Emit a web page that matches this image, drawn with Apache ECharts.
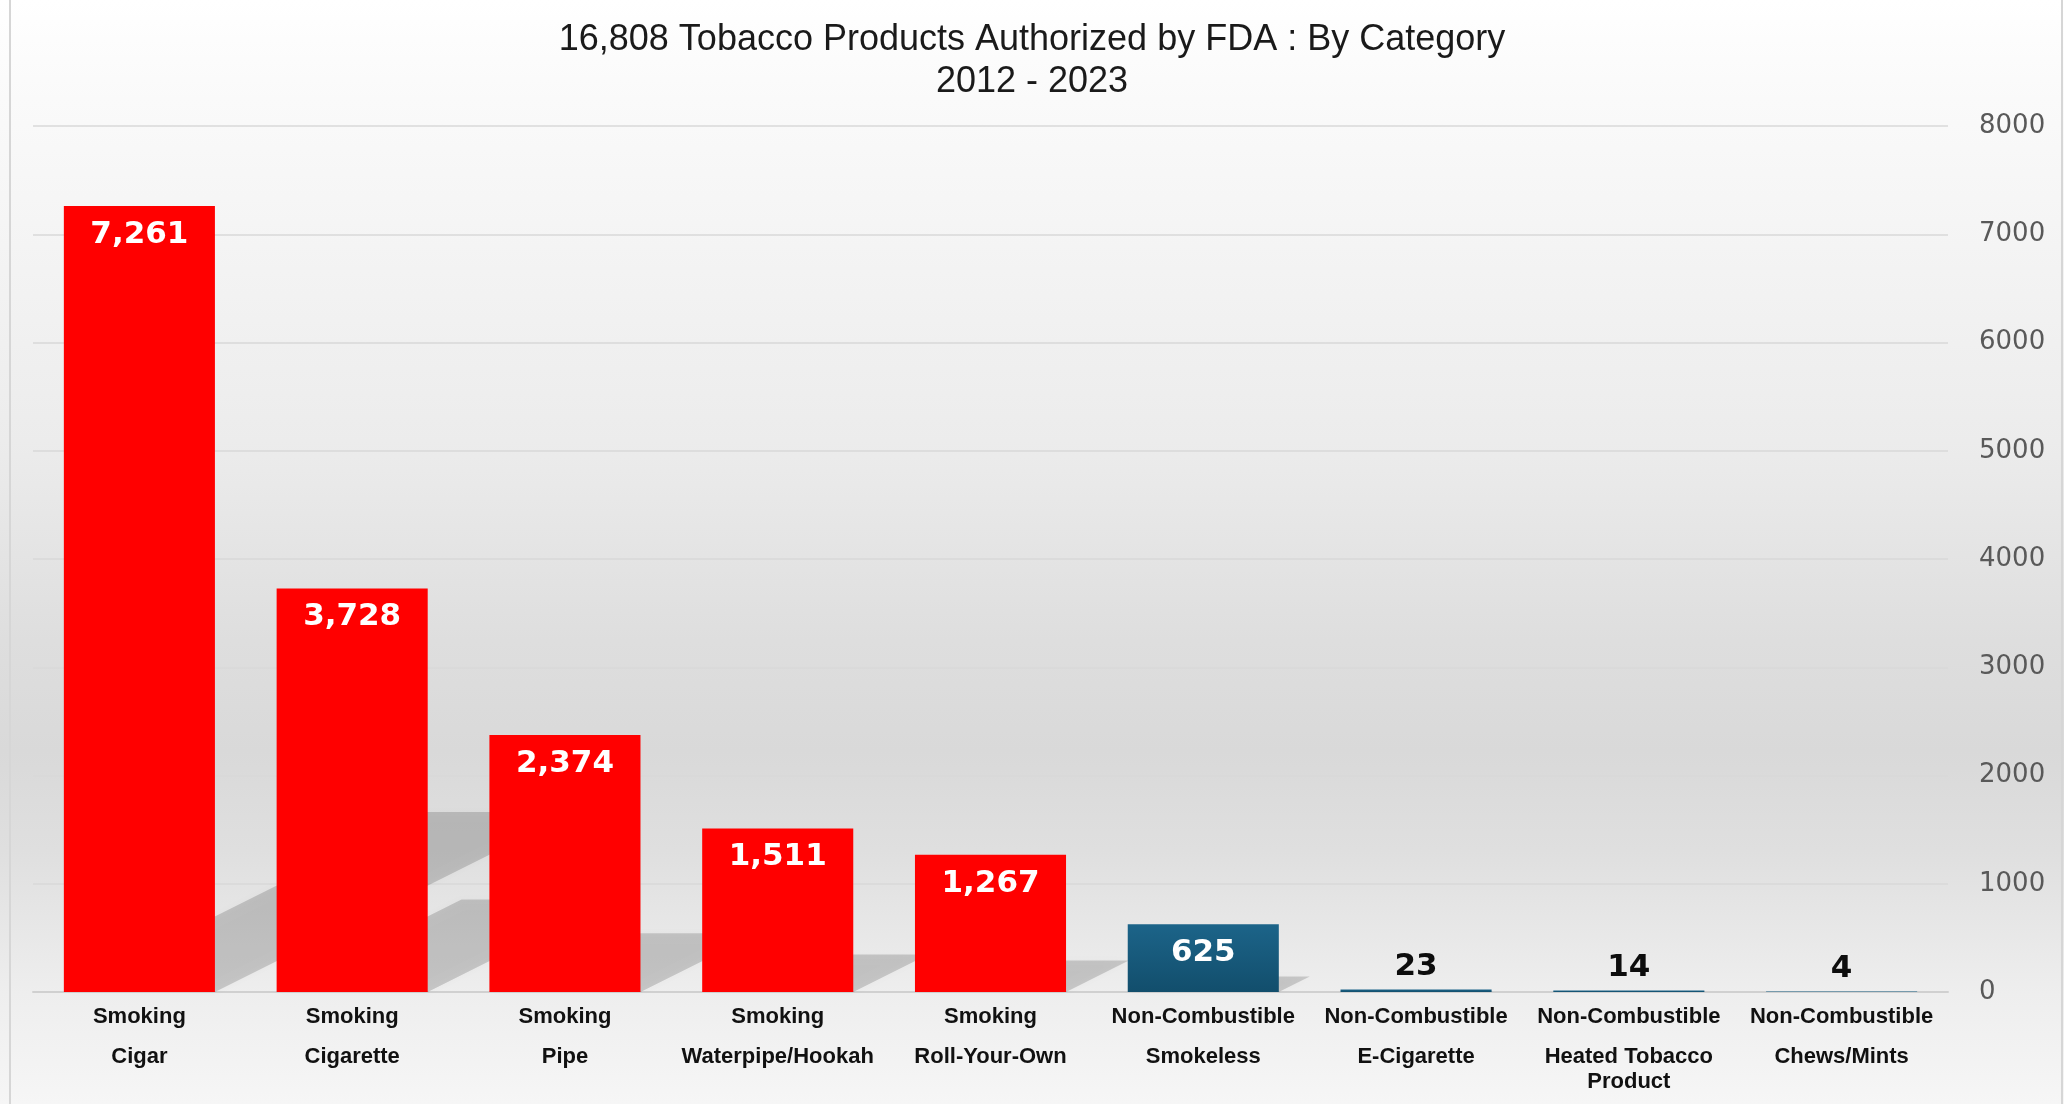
<!DOCTYPE html>
<html>
<head>
<meta charset="utf-8">
<script src="https://cdn.jsdelivr.net/npm/echarts@6/dist/echarts.min.js"></script>
<style>
  html, body { margin: 0; padding: 0; }
  #chart {
    width: 2064px; height: 1104px;
    background: linear-gradient(to bottom, #ffffff 0%, #fafafa 9%, #ececec 40%, #dedede 58%, #d9d9d9 68%, #dfdfdf 77%, #eeeeee 90%, #f6f6f6 100%);
  }
</style>
</head>
<body>
<div id="chart"></div>
<script>
// ---- data ----
const titleLines = ['16,808 Tobacco Products Authorized by FDA : By Category', '2012 - 2023'];
const groups = ['Smoking', 'Smoking', 'Smoking', 'Smoking', 'Smoking',
                'Non-Combustible', 'Non-Combustible', 'Non-Combustible', 'Non-Combustible'];
const subCategories = ['Cigar', 'Cigarette', 'Pipe', 'Waterpipe/Hookah', 'Roll-Your-Own',
                       'Smokeless', 'E-Cigarette', 'Heated Tobacco Product', 'Chews/Mints'];
const values = [7261, 3728, 2374, 1511, 1267, 625, 23, 14, 4];
const yTicks = { min: 0, max: 8000, interval: 1000 };
const groupColors = {
  'Smoking': '#ff0000',
  'Non-Combustible': { type: 'linear', x: 0, y: 0, x2: 0, y2: 1,
    colorStops: [{ offset: 0, color: '#1c6489' }, { offset: 1, color: '#124e6c' }] }
};

const categories = subCategories.map((s, i) => i);

function wrap(text, maxLen) {
  const words = text.split(' ');
  const lines = [];
  let cur = '';
  words.forEach(w => {
    if (cur && (cur + ' ' + w).length > maxLen) { lines.push(cur); cur = w; }
    else cur = cur ? cur + ' ' + w : w;
  });
  if (cur) lines.push(cur);
  return lines;
}

const BAR_FRAC = 0.71;

const chart = echarts.init(document.getElementById('chart'), null, { renderer: 'canvas' });

const barData = values.map((v, i) => {
  const small = v < 300;
  return {
    value: v,
    itemStyle: { color: groupColors[groups[i]] },
    label: small ? {
      position: 'top', distance: 8, color: '#0d0d0d'
    } : {
      position: 'insideTop', distance: 14, color: '#ffffff'
    }
  };
});

const option = {
  animation: false,
  title: {
    text: titleLines.join('\n'),
    left: 'center',
    top: 14,
    textStyle: {
      fontFamily: 'Liberation Sans',
      fontSize: 36,
      fontWeight: 'normal',
      color: '#1a1a1a',
      lineHeight: 42
    }
  },
  grid: { left: 33, right: 116, top: 126, bottom: 112, containLabel: false },
  graphic: [
    { type: 'line', shape: { x1: 10, y1: 0, x2: 10, y2: 1104 }, style: { stroke: '#d6d6d6', lineWidth: 2 }, silent: true },
    { type: 'line', shape: { x1: 2062, y1: 0, x2: 2062, y2: 1104 }, style: { stroke: '#d6d6d6', lineWidth: 2 }, silent: true }
  ],
  xAxis: {
    type: 'category',
    data: categories,
    axisTick: { show: false },
    axisLine: { show: true, lineStyle: { color: '#d0d0d0', width: 2 } },
    axisLabel: {
      interval: 0,
      margin: 12,
      formatter: function (val, idx) {
        const i = Number(val);
        const subLines = wrap(subCategories[i], 16);
        return '{a|' + groups[i] + '}\n{s| }\n' + subLines.map(l => '{b|' + l + '}').join('\n');
      },
      rich: {
        a: { fontFamily: 'Liberation Sans', fontWeight: 'bold', fontSize: 22, lineHeight: 25, color: '#111111' },
        s: { fontSize: 10, lineHeight: 15 },
        b: { fontFamily: 'Liberation Sans', fontWeight: 'bold', fontSize: 22, lineHeight: 25, color: '#111111' }
      }
    }
  },
  yAxis: {
    type: 'value',
    position: 'right',
    min: yTicks.min,
    max: yTicks.max,
    interval: yTicks.interval,
    axisLine: { show: false },
    axisTick: { show: false },
    splitLine: { show: true, lineStyle: { color: '#d9d9d9', width: 1.5 } },
    axisLabel: {
      align: 'left',
      margin: 31,
      fontFamily: 'DejaVu Sans',
      fontSize: 26,
      color: '#595959',
      formatter: v => String(v)
    }
  },
  series: [
    {
      type: 'custom',
      name: 'shadow',
      z: 1,
      silent: true,
      data: values.map((v, i) => [i, v]),
      renderItem: function (params, api) {
        const i = api.value(0), v = api.value(1);
        const base = api.coord([i, 0]);
        const top = api.coord([i, v]);
        const w = api.size([1, 0])[0] * BAR_FRAC;
        const h = base[1] - top[1];
        const x0 = base[0] - w / 2, x1 = base[0] + w / 2, y0 = base[1];
        const dx = 0.458 * h, dy = 0.229 * h;
        return {
          type: 'polygon',
          shape: { points: [[x0, y0], [x1, y0], [x1 + dx, y0 - dy], [x0 + dx, y0 - dy]] },
          style: { fill: 'rgba(0,0,0,0.16)', shadowBlur: 8, shadowColor: 'rgba(0,0,0,0.14)' }
        };
      }
    },
    {
      type: 'bar',
      name: 'Products',
      z: 2,
      barWidth: (BAR_FRAC * 100) + '%',
      data: barData,
      label: {
        show: true,
        fontFamily: 'DejaVu Sans',
        fontWeight: 'bold',
        fontSize: 31,
        lineHeight: 30,
        formatter: p => Number(p.value).toLocaleString('en-US')
      }
    }
  ]
};

chart.setOption(option);
</script>
</body>
</html>
